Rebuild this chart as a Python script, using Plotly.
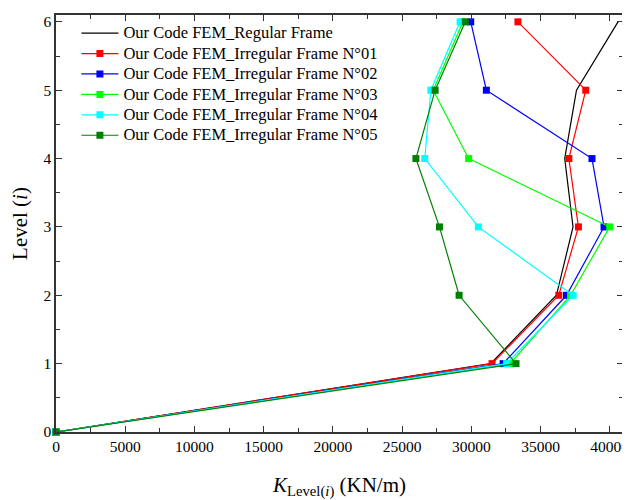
import plotly.graph_objects as go

levels = [0, 1, 2, 3, 4, 5, 6]
regular = [0, 31400, 36150, 37350, 36750, 37600, 40600]
irr01 = [0, 31500, 36320, 37740, 37050, 38270, 33370]
irr02 = [0, 32300, 36880, 39590, 38720, 31090, 29960]
irr03 = [0, 32800, 37170, 40000, 29810, 27250, 29400]
irr04 = [0, 32550, 37360, 30510, 26640, 27080, 29190]
irr05 = [0, 33230, 29120, 27700, 26000, 27390, 29570]

names = ["Our Code FEM_Regular Frame",
         "Our Code FEM_Irregular Frame N°01",
         "Our Code FEM_Irregular Frame N°02",
         "Our Code FEM_Irregular Frame N°03",
         "Our Code FEM_Irregular Frame N°04",
         "Our Code FEM_Irregular Frame N°05"]
colors = ["#000000", "#FF0000", "#0000FF", "#00FF00", "#00FFFF", "#008000"]
series = [regular, irr01, irr02, irr03, irr04, irr05]

fig = go.Figure()
for i, (nm, c, s) in enumerate(zip(names, colors, series)):
    label = "<span style='font-size:16.5px'>" + nm + "</span>"
    if i == 0:
        fig.add_trace(go.Scatter(x=s, y=levels, mode="lines", name=label,
                                 line=dict(color=c, width=1.2), cliponaxis=False))
    else:
        fig.add_trace(go.Scatter(x=s, y=levels, mode="lines+markers", name=label,
                                 line=dict(color=c, width=1.2),
                                 marker=dict(symbol="square", size=7, color=c),
                                 cliponaxis=False))

font = "Liberation Serif, Times New Roman, serif"
axis_common = dict(showline=True, linecolor="#333", linewidth=1.5, mirror="ticks",
                   ticks="inside", ticklen=6, tickwidth=1.2, tickcolor="#333",
                   showgrid=False, zeroline=False, automargin=False,
                   tickfont=dict(family=font, size=15.5, color="black"))
fig.update_layout(
    width=622, height=492,
    margin=dict(l=48, r=7, t=7, b=68),
    plot_bgcolor="white", paper_bgcolor="white",
    font=dict(family=font, color="black"),
    xaxis=dict(range=[0, 40960], tick0=0, dtick=5000, tickformat="d",
               minor=dict(ticks="inside", ticklen=4, dtick=2500, tickcolor="#333"),
               title=dict(text="<i>K</i><sub>Level(<i>i</i>)</sub> (KN/m)",
                          font=dict(family=font, size=21), standoff=25),
               **axis_common),
    yaxis=dict(range=[0, 6.1], tick0=0, dtick=1,
               minor=dict(ticks="inside", ticklen=4, dtick=0.5, tickcolor="#333"),
               title=dict(text="Level (<i>i</i>)", font=dict(family=font, size=21), standoff=16),
               **axis_common),
    legend=dict(x=0.036, y=0.993, xanchor="left", yanchor="top",
                bgcolor="rgba(0,0,0,0)", font=dict(family=font, size=13.4),
                tracegroupgap=0, itemwidth=37),
    showlegend=True,
)
fig.write_html("out.html")
